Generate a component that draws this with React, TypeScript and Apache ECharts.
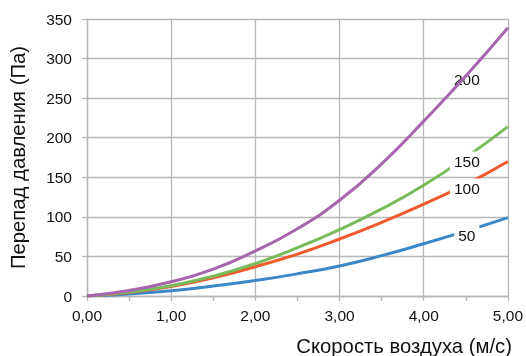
import React, { useEffect, useRef } from "react";
import * as echarts from "echarts";

const speeds = [0, 0.5, 1, 1.5, 2, 2.5, 3, 3.5, 4, 4.5, 5];
const seriesNames = ["50", "100", "150", "200"];
const values50 = [0, 2.5, 6.5, 12.5, 19.5, 28, 38, 51, 66, 82, 99];
const values100 = [0, 4.5, 12, 23, 37, 53, 72, 93, 116, 141, 170];
const values150 = [0, 5, 13, 25, 41, 61, 84, 110, 140, 175, 214];
const values200 = [0, 7, 18, 34, 57, 85, 121, 167, 221, 278, 339];
const colors = ["#3b88c9", "#f0592b", "#79bb5b", "#a666ad"];
const yTicks = [0, 50, 100, 150, 200, 250, 300, 350];
const xTitle = "Скорость воздуха (м/с)";
const yTitle = "Перепад давления (Па)";
const labelIndex = 9;

const FONT = "Liberation Sans, Arial, sans-serif";

export default function App() {
  const ref = useRef<HTMLDivElement>(null);
  useEffect(() => {
    if (!ref.current) return;
    const chart = echarts.init(ref.current, null, { renderer: "svg" });
    const all = [values50, values100, values150, values200];
    const grid = "#b7b7b7";
    chart.setOption({
      animation: false,
      grid: { left: 86, right: 15, top: 19, bottom: 60 },
      textStyle: { fontFamily: FONT },
      xAxis: {
        type: "value",
        min: 0,
        max: 5,
        interval: 1,
        axisLine: { show: true, lineStyle: { color: grid, width: 1.3 } },
        axisTick: { show: true, length: 5, lineStyle: { color: grid, width: 1.3 } },
        minorTick: { show: true, splitNumber: 2, length: 5, lineStyle: { color: grid, width: 1.3 } },
        splitLine: { show: true, lineStyle: { color: grid, width: 1.3 } },
        axisLabel: {
          color: "#111",
          fontSize: 15.5,
          fontFamily: FONT,
          margin: 11,
          formatter: (v: number) => v.toFixed(2).replace(".", ","),
        },
      },
      yAxis: {
        type: "value",
        min: yTicks[0],
        max: yTicks[yTicks.length - 1],
        interval: 50,
        name: yTitle,
        nameLocation: "middle",
        nameGap: 59,
        nameTextStyle: { color: "#111", fontSize: 20.3, fontFamily: FONT },
        axisLine: { show: true, lineStyle: { color: grid, width: 1.3 } },
        axisTick: { show: true, length: 5, lineStyle: { color: grid, width: 1.3 } },
        splitLine: { show: true, lineStyle: { color: grid, width: 1.3 } },
        axisLabel: { color: "#111", fontSize: 15.5, fontFamily: FONT, margin: 15 },
      },
      graphic: [
        {
          type: "text",
          right: 14,
          bottom: 0,
          style: { text: xTitle, fill: "#111", fontSize: 20.3, fontFamily: FONT },
        },
      ],
      series: all.map((vals, i) => ({
        type: "line",
        name: seriesNames[i],
        data: speeds.map((s, j) => [s, vals[j]]),
        smooth: 0.5,
        showSymbol: false,
        symbol: "none",
        lineStyle: { color: colors[i], width: 3 },
        itemStyle: { color: colors[i] },
        z: 2 + i,
        markPoint: {
          symbol: "rect",
          symbolSize: 1,
          itemStyle: { color: "rgba(0,0,0,0)" },
          data: [
            {
              coord: [speeds[labelIndex], vals[labelIndex]],
              value: seriesNames[i],
            },
          ],
          label: {
            show: true,
            position: "inside",
            offset: [1, 4],
            formatter: seriesNames[i],
            color: "#111",
            fontSize: 15.5,
            fontFamily: FONT,
            backgroundColor: "#fff",
            padding: [2, 4],
          },
        },
      })),
    });
    return () => chart.dispose();
  }, []);
  return (
    <div
      ref={ref}
      style={{ position: "fixed", left: 0, top: 0, width: 526, height: 356 }}
    />
  );
}
